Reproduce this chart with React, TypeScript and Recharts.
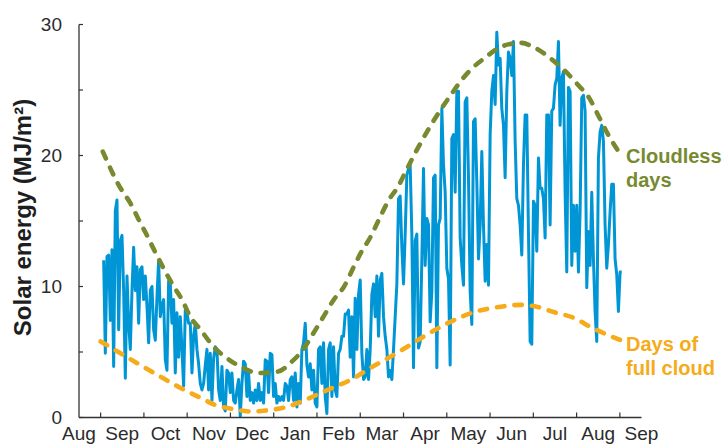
import React from 'react';
import { LineChart, Line, XAxis, YAxis } from 'recharts';

const monthLabels = ['Aug', 'Sep', 'Oct', 'Nov', 'Dec', 'Jan', 'Feb', 'Mar', 'Apr', 'May', 'Jun', 'Jul', 'Aug', 'Sep'];
const monthTicks = [-0.5, 0, 0.5, 1, 1.5, 2, 2.5, 3, 3.5, 4, 4.5, 5, 5.5, 6, 6.5, 7, 7.5, 8, 8.5, 9, 9.5, 10, 10.5, 11, 11.5, 12, 12.5];
const yTicks = [0, 5, 10, 15, 20, 25, 30];

// Daily solar energy, sampled along the year (month units from the first tick)
const blueStartMonth = 0.07;
const blueStepMonth = 0.0385;
const dailyEnergy = [
  12.0, 4.9, 12.3, 12.4, 7.4, 12.8, 3.9, 15.8, 16.6, 6.7,
  13.5, 13.9, 9.7, 3.0, 10.8, 7.2, 5.2, 9.7, 13.0, 9.7,
  11.5, 7.2, 11.3, 11.5, 9.0, 10.8, 8.5, 5.7, 9.7, 10.0,
  6.7, 5.9, 9.2, 12.0, 7.7, 8.5, 9.0, 4.4, 3.6, 10.4,
  10.2, 7.2, 9.0, 3.4, 8.0, 4.6, 7.7, 5.2, 2.4, 8.2,
  8.0, 7.2, 7.2, 3.4, 6.2, 7.2, 5.2, 4.1, 2.6, 2.1,
  2.6, 4.0, 5.2, 2.1, 4.9, 1.3, 4.5, 5.4, 5.2, 2.1,
  1.3, 3.9, 0.8, 0.5, 3.6, 3.4, 1.9, 3.4, 1.3, 1.1,
  2.1, 2.9, 0.1, 2.6, 4.3, 4.1, 1.6, 3.4, 1.3, 1.9,
  1.1, 2.1, 1.3, 2.6, 1.3, 1.9, 1.1, 4.4, 4.3, 1.9,
  4.9, 4.8, 1.6, 2.6, 1.1, 1.6, 1.3, 1.6, 1.3, 2.6,
  2.4, 1.3, 2.9, 3.1, 1.3, 3.4, 0.8, 2.6, 1.1, 5.2,
  5.7, 7.2,
  4.0, 3.1, 4.1, 2.1, 3.6, 1.1, 0.8, 5.2, 5.4, 2.6,
  5.7, 1.6, 0.3, 5.2, 5.7, 1.6, 5.4, 2.1, 1.6, 4.9,
  5.2, 6.2, 6.2, 7.9, 7.9, 8.2, 4.6, 7.7, 3.1, 9.1,
  5.2, 9.4, 10.5, 4.9, 2.9, 3.1, 5.2, 2.9, 5.2, 9.4,
  10.2, 7.7, 10.8, 6.2, 10.5, 11.0, 7.7, 6.2, 5.2, 3.1,
  3.6, 2.9, 5.2, 7.7, 10.2, 16.7, 16.9, 13.0, 10.2, 14.0,
  18.5, 19.0, 19.3, 14.0, 3.8, 13.5, 14.0, 5.3, 5.8, 12.1,
  19.0, 11.6, 15.2, 14.7, 7.3, 9.6, 18.3, 18.5, 3.8, 14.7,
  15.2, 23.6, 19.3, 17.2, 11.4, 10.6, 4.0, 21.3, 21.6, 17.2,
  24.9, 24.9, 13.7, 11.6, 10.1, 24.1, 24.4, 18.3, 9.6, 7.1,
  22.6, 22.8, 18.0, 12.1, 14.7, 20.3, 14.7, 10.4, 13.2, 10.1,
  21.6, 24.9, 26.1, 23.9, 29.4, 26.9, 27.4, 23.6, 22.3, 18.3,
  24.9, 27.9, 27.4, 26.1,
  28.7, 21.1, 16.7, 16.2, 14.7, 12.4, 19.3, 23.1, 23.1, 14.2,
  5.8, 5.6, 16.5, 16.2, 12.7, 19.8, 17.5, 17.5, 16.7, 13.7,
  23.1, 23.1, 14.7, 23.4, 23.6, 25.4, 25.9, 28.7, 22.3, 25.9,
  26.4, 17.2, 11.1, 25.2, 24.9, 11.6, 16.2, 12.7, 16.2, 11.1,
  15.7, 24.4, 24.6, 23.4, 9.9, 14.2, 11.6, 17.2, 12.1, 8.1,
  5.8, 19.8, 21.8, 22.3, 21.1, 14.7, 11.4, 13.2, 15.7, 17.8,
  17.8, 12.1, 10.9, 8.1, 11.1, 11.1,
];

const cloudlessMonth = [0.05, 0.46, 0.68, 0.88, 1.04, 1.31, 1.69, 1.88, 2.07, 2.31, 2.61, 2.93, 3.28, 3.65, 4.09, 4.43, 4.67, 4.92, 5.15, 5.39, 5.62, 5.85, 6.01, 6.24, 6.43, 6.66, 6.87, 7.01, 7.24, 7.63, 7.86, 8.09, 8.35, 8.60, 8.90, 9.25, 9.71, 10.05, 10.44, 10.75, 11.03, 11.29, 11.51, 11.71, 11.95];
const cloudlessValue = [20.3, 17.5, 16.4, 15.1, 14.1, 12.3, 10.0, 9.0, 7.7, 6.7, 5.4, 4.5, 3.8, 3.4, 3.5, 4.3, 5.15, 6.45, 7.7, 9.0, 9.96, 11.5, 12.55, 13.8, 15.1, 16.6, 17.6, 18.5, 20.0, 22.3, 23.5, 24.6, 25.8, 26.7, 27.5, 28.3, 28.6, 28.2, 27.3, 26.4, 25.4, 24.4, 23.0, 21.7, 20.4];

const fullCloudMonth = [0.0, 0.46, 0.92, 1.39, 1.85, 2.31, 2.66, 3.05, 3.51, 3.89, 4.32, 4.66, 5.24, 5.85, 6.24, 6.63, 7.01, 7.40, 8.02, 8.55, 9.25, 9.71, 10.10, 10.47, 10.94, 11.33, 11.72, 12.02];
const fullCloudValue = [5.8, 4.9, 4.0, 3.1, 2.25, 1.5, 0.95, 0.65, 0.45, 0.57, 0.82, 1.25, 2.1, 3.0, 3.8, 4.5, 5.25, 6.05, 7.2, 7.96, 8.46, 8.6, 8.44, 8.05, 7.6, 6.9, 6.3, 5.9];

const blueData = dailyEnergy.map((v, i) => ({ t: blueStartMonth + i * blueStepMonth, v }));
const cloudlessData = cloudlessMonth.map((t, i) => ({ t, v: cloudlessValue[i] }));
const fullCloudData = fullCloudMonth.map((t, i) => ({ t, v: fullCloudValue[i] }));

const FONT = '"Liberation Sans", Arial, Helvetica, sans-serif';
const AXIS = '#333333';
const BLUE = '#0096d6';
const GREEN = '#778a2f';
const ORANGE = '#f5ab1a';

const XTick = (props: any) => {
  const { x, y, payload } = props;
  const val = payload.value as number;
  if (Number.isInteger(val)) {
    return <line x1={x} x2={x} y1={y} y2={y - 5} stroke={AXIS} strokeWidth={1.2} />;
  }
  const idx = Math.round(val + 0.5);
  return (
    <text x={x} y={y + 22} textAnchor="middle" fontSize={19} fill="#2b2b2b" fontFamily={FONT}>
      {monthLabels[idx]}
    </text>
  );
};

const YTick = (props: any) => {
  const { x, y, payload } = props;
  const val = payload.value as number;
  return (
    <g>
      <line x1={x} x2={x + 4} y1={y} y2={y} stroke={AXIS} strokeWidth={1.2} />
      {val % 10 === 0 && (
        <text x={x - 17} y={y} dy="0.36em" textAnchor="end" fontSize={19} fill="#2b2b2b" fontFamily={FONT}>
          {val}
        </text>
      )}
    </g>
  );
};

export default function App() {
  return (
    <div style={{ position: 'absolute', left: 0, top: 0, width: 725, height: 445, background: '#fff' }}>
      <LineChart
        width={725}
        height={445}
        margin={{ top: 24.5, right: 83.5, bottom: 2, left: 19 }}
      >
        <XAxis
          type="number"
          dataKey="t"
          domain={[-0.5, 12.5]}
          ticks={monthTicks}
          interval={0}
          tick={<XTick />}
          tickSize={0}
          tickMargin={0}
          tickLine={false}
          height={25.5}
          axisLine={{ stroke: AXIS, strokeWidth: 1.3 }}
          allowDataOverflow
        />
        <YAxis
          type="number"
          domain={[0, 30]}
          ticks={yTicks}
          interval={0}
          tick={<YTick />}
          tickSize={0}
          tickMargin={0}
          tickLine={false}
          width={60}
          axisLine={{ stroke: AXIS, strokeWidth: 1.3 }}
          allowDataOverflow
        />
        <Line
          data={blueData}
          dataKey="v"
          type="linear"
          stroke={BLUE}
          strokeWidth={3}
          strokeLinejoin="round"
          dot={false}
          activeDot={false}
          isAnimationActive={false}
        />
        <Line
          data={cloudlessData}
          dataKey="v"
          type="monotone"
          stroke={GREEN}
          strokeWidth={4.6}
          strokeDasharray="7.5 10"
          strokeLinecap="round"
          dot={false}
          activeDot={false}
          isAnimationActive={false}
        />
        <Line
          data={fullCloudData}
          dataKey="v"
          type="monotone"
          stroke={ORANGE}
          strokeWidth={4.6}
          strokeDasharray="7.5 10"
          strokeLinecap="round"
          dot={false}
          activeDot={false}
          isAnimationActive={false}
        />
      </LineChart>
      <svg
        width={725}
        height={445}
        style={{ position: 'absolute', left: 0, top: 0, pointerEvents: 'none' }}
      >
        <text
          x={31}
          y={217.5}
          transform="rotate(-90, 31, 217.5)"
          textAnchor="middle"
          fontSize={24}
          fontWeight="bold"
          fill="#1e1e1e"
          fontFamily={FONT}
        >
          Solar energy (MJ/m²)
        </text>
        <text x={626} y={163} fontSize={20} fontWeight="bold" fill={GREEN} fontFamily={FONT}>Cloudless</text>
        <text x={626} y={187} fontSize={20} fontWeight="bold" fill={GREEN} fontFamily={FONT}>days</text>
        <text x={626} y={351} fontSize={20} fontWeight="bold" fill={ORANGE} fontFamily={FONT}>Days of</text>
        <text x={626} y={375} fontSize={20} fontWeight="bold" fill={ORANGE} fontFamily={FONT}>full cloud</text>
      </svg>
    </div>
  );
}
